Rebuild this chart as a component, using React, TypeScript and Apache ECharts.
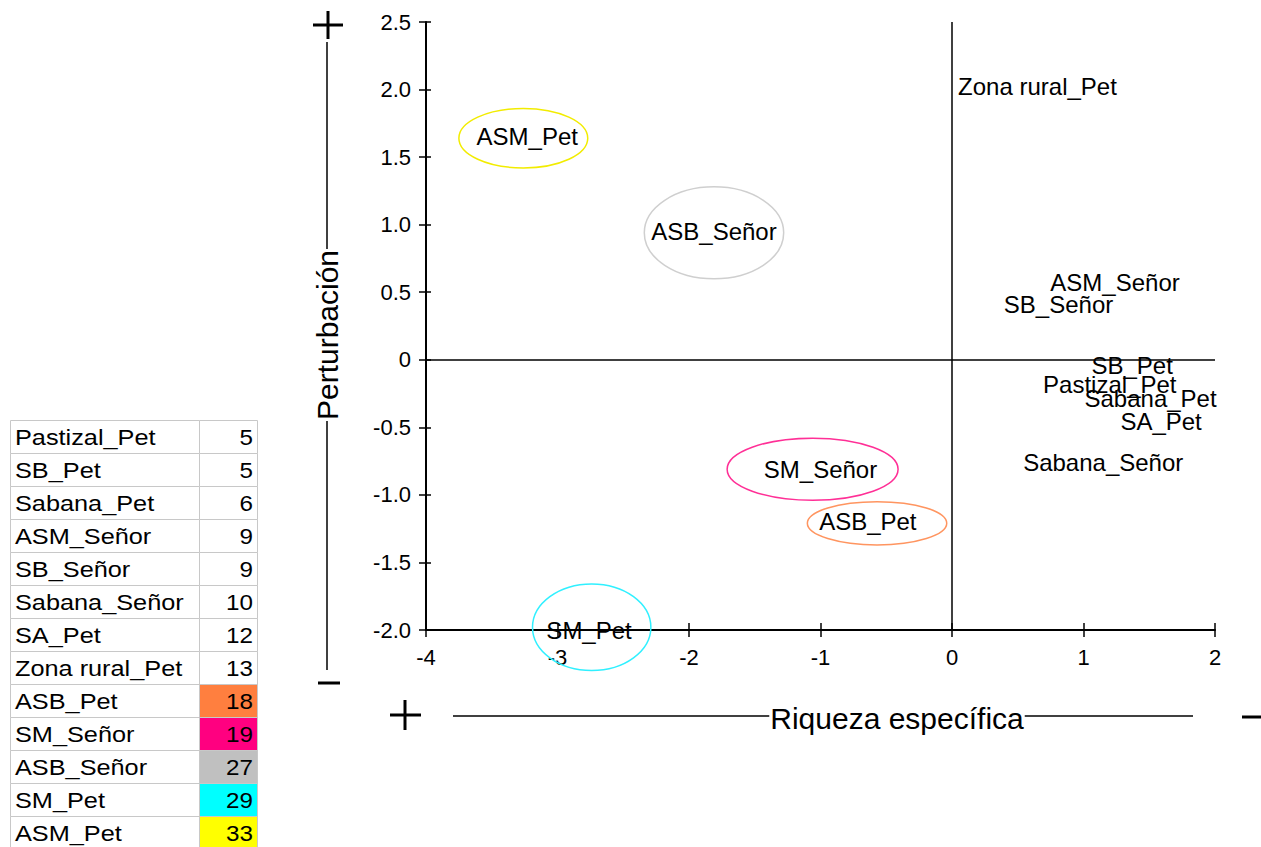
import React, { useEffect, useRef } from "react";
import * as echarts from "echarts";

// ---- data ----
const pointNames = [
  "Zona rural_Pet", "ASM_Pet", "ASB_Señor", "ASM_Señor", "SB_Señor", "SB_Pet",
  "Pastizal_Pet", "Sabana_Pet", "SA_Pet", "Sabana_Señor", "SM_Señor", "ASB_Pet", "SM_Pet",
];
const xValues = [0.65, -3.23, -1.81, 1.24, 0.81, 1.37, 1.2, 1.51, 1.59, 1.15, -1.0, -0.64, -2.76];
const yValues = [2.02, 1.65, 0.95, 0.57, 0.41, -0.04, -0.18, -0.29, -0.46, -0.76, -0.81, -1.2, -2.0];

const ellipseNames = ["ASM_Pet", "ASB_Señor", "SM_Señor", "ASB_Pet", "SM_Pet"];
const ellipseX = [-3.26, -1.81, -1.06, -0.57, -2.74];
const ellipseY = [1.64, 0.94, -0.81, -1.21, -1.98];
const ellipseRx = [0.49, 0.53, 0.65, 0.53, 0.45];
const ellipseRy = [0.22, 0.34, 0.23, 0.16, 0.32];
const ellipseColors = ["#f2ec00", "#cfcfcf", "#ff2f96", "#ff9560", "#30f0ff"];

const tableNames = [
  "Pastizal_Pet", "SB_Pet", "Sabana_Pet", "ASM_Señor", "SB_Señor", "Sabana_Señor",
  "SA_Pet", "Zona rural_Pet", "ASB_Pet", "SM_Señor", "ASB_Señor", "SM_Pet", "ASM_Pet",
];
const tableValues = [5, 5, 6, 9, 9, 10, 12, 13, 18, 19, 27, 29, 33];
const tableColors = [
  "#ffffff", "#ffffff", "#ffffff", "#ffffff", "#ffffff", "#ffffff", "#ffffff", "#ffffff",
  "#ff7f3f", "#ff0080", "#c0c0c0", "#00ffff", "#ffff00",
];

const xAxisTitle = "Riqueza específica";
const yAxisTitle = "Perturbación";

const FONT = "'Liberation Sans', Arial, sans-serif";

export default function App() {
  const ref = useRef<HTMLDivElement>(null);

  useEffect(() => {
    if (!ref.current) return;
    const chart = echarts.init(ref.current, undefined, { renderer: "svg" });

    const tableElements: any[] = [];
    const rowTop = 420;
    const rowH = 33;
    tableNames.forEach((n, i) => {
      const y = rowTop + i * rowH;
      tableElements.push({
        type: "rect",
        shape: { x: 10.5, y: y + 0.5, width: 189, height: rowH },
        style: { fill: "#fff", stroke: "#c8c8c8", lineWidth: 1 },
      });
      tableElements.push({
        type: "rect",
        shape: { x: 199.5, y: y + 0.5, width: 58, height: rowH },
        style: { fill: tableColors[i], stroke: "#c8c8c8", lineWidth: 1 },
      });
      tableElements.push({
        type: "text",
        x: 15,
        y: y + rowH / 2 + 1,
        scaleX: 1.15,
        style: { text: n, fill: "#000", font: `22px ${FONT}`, align: "left", verticalAlign: "middle" },
      });
      tableElements.push({
        type: "text",
        x: 253,
        y: y + rowH / 2 + 1,
        scaleX: 1.1,
        style: { text: String(tableValues[i]), fill: "#000", font: `22px ${FONT}`, align: "right", verticalAlign: "middle" },
      });
    });

    const black = { stroke: "#000", lineWidth: 1.5 };
    const thick = { stroke: "#000", lineWidth: 3 };

    const decorations: any[] = [
      { type: "line", shape: { x1: 327, y1: 42, x2: 327, y2: 670 }, style: black },
      {
        type: "text", x: 327, y: 335, rotation: Math.PI / 2,
        style: {
          text: yAxisTitle, fill: "#000", font: `30px ${FONT}`, align: "center",
          verticalAlign: "middle", backgroundColor: "#fff", padding: [0, 1],
        },
      },
      { type: "line", shape: { x1: 313, y1: 25, x2: 343, y2: 25 }, style: thick },
      { type: "line", shape: { x1: 328, y1: 11, x2: 328, y2: 39 }, style: thick },
      { type: "line", shape: { x1: 318, y1: 683, x2: 340, y2: 683 }, style: thick },
      { type: "line", shape: { x1: 453, y1: 716, x2: 1193, y2: 716 }, style: black },
      {
        type: "text", x: 897, y: 718,
        style: {
          text: xAxisTitle, fill: "#000", font: `30px ${FONT}`, align: "center",
          verticalAlign: "middle", backgroundColor: "#fff", padding: [0, 1],
        },
      },
      { type: "line", shape: { x1: 390, y1: 715, x2: 421, y2: 715 }, style: thick },
      { type: "line", shape: { x1: 405, y1: 700, x2: 405, y2: 730 }, style: thick },
      { type: "line", shape: { x1: 1242, y1: 717, x2: 1261, y2: 717 }, style: thick },
    ];

    const tickStyle = { color: "#000", width: 1.5 };

    const option: any = {
      animation: false,
      backgroundColor: "#fff",
      grid: { left: 426, top: 22, right: 46, bottom: 217, containLabel: false },
      xAxis: [
        {
          type: "value", min: -4, max: 2, interval: 1,
          axisLine: { show: true, onZero: false, lineStyle: { color: "#000", width: 2 } },
          axisTick: { show: true, inside: false, length: 7, lineStyle: tickStyle },
          axisLabel: { color: "#000", fontSize: 22, fontFamily: FONT, margin: 16 },
          splitLine: { show: false },
        },
        {
          type: "value", min: -4, max: 2, interval: 1, position: "bottom",
          axisLine: { show: false, onZero: false },
          axisTick: { show: true, inside: true, length: 7, lineStyle: tickStyle },
          axisLabel: { show: false },
          splitLine: { show: false },
        },
      ],
      yAxis: [
        {
          type: "value", min: -2, max: 2.5, interval: 0.5,
          axisLine: { show: true, onZero: false, lineStyle: { color: "#000", width: 2 } },
          axisTick: { show: true, inside: false, length: 7, lineStyle: tickStyle },
          axisLabel: {
            color: "#000", fontSize: 22, fontFamily: FONT, margin: 15,
            formatter: (v: number) => (v === 0 ? "0" : v.toFixed(1)),
          },
          splitLine: { show: false },
        },
        {
          type: "value", min: -2, max: 2.5, interval: 0.5, position: "left",
          axisLine: { show: false, onZero: false },
          axisTick: { show: true, inside: true, length: 5, lineStyle: tickStyle },
          axisLabel: { show: false },
          splitLine: { show: false },
        },
      ],
      graphic: [...tableElements, ...decorations],
      series: [
        {
          type: "scatter",
          xAxisIndex: 0,
          yAxisIndex: 0,
          symbolSize: 0,
          itemStyle: { color: "transparent" },
          silent: true,
          data: pointNames.map((n, i) => ({ name: n, value: [xValues[i], yValues[i]] })),
          markLine: {
            silent: true,
            symbol: "none",
            label: { show: false },
            lineStyle: { color: "#000", width: 1.5, type: "solid" },
            data: [{ xAxis: 0 }, { yAxis: 0 }],
          },
          z: 1,
        },
        {
          type: "custom",
          name: "ellipses",
          xAxisIndex: 0,
          yAxisIndex: 0,
          clip: false,
          silent: true,
          data: ellipseNames.map((n, i) => ({
            name: n,
            value: [ellipseX[i], ellipseY[i], ellipseRx[i], ellipseRy[i]],
          })),
          renderItem: (params: any, api: any) => {
            const c = api.coord([api.value(0), api.value(1)]);
            const s = api.size([api.value(2), api.value(3)]);
            return {
              type: "ellipse",
              shape: { cx: c[0], cy: c[1], rx: s[0], ry: s[1] },
              style: { fill: "none", stroke: ellipseColors[params.dataIndex], lineWidth: 1.5 },
            };
          },
          z: 2,
        },
        {
          type: "custom",
          name: "labels",
          xAxisIndex: 0,
          yAxisIndex: 0,
          clip: false,
          silent: true,
          data: pointNames.map((n, i) => ({ name: n, value: [xValues[i], yValues[i]] })),
          renderItem: (params: any, api: any) => {
            const c = api.coord([api.value(0), api.value(1)]);
            return {
              type: "text",
              x: c[0],
              y: c[1],
              style: {
                text: pointNames[params.dataIndex],
                fill: "#000",
                font: `24px ${FONT}`,
                align: "center",
                verticalAlign: "middle",
              },
            };
          },
          z: 3,
        },
      ],
    };

    chart.setOption(option);
    return () => chart.dispose();
  }, []);

  return (
    <div
      ref={ref}
      style={{ position: "fixed", left: 0, top: 0, width: 1261, height: 847, background: "#fff" }}
    />
  );
}
